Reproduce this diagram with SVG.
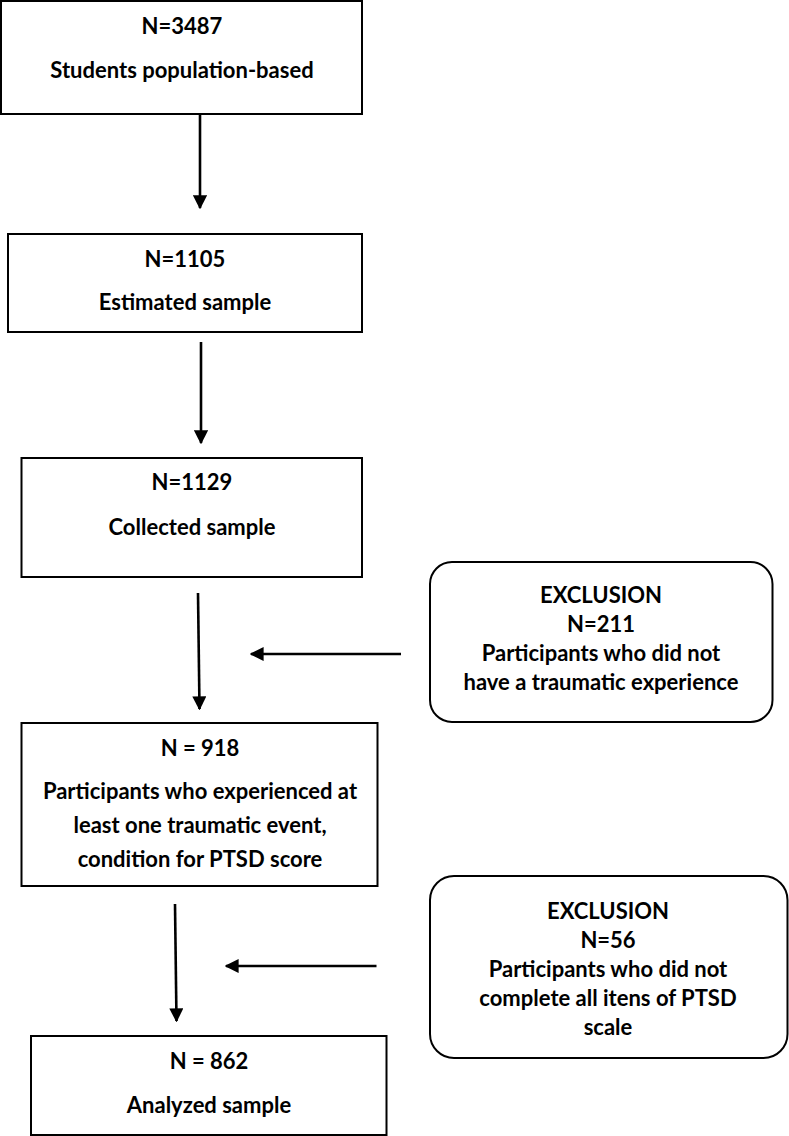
<svg xmlns="http://www.w3.org/2000/svg" width="789" height="1136" viewBox="0 0 789 1136">
<style>
.box{fill:#fff;stroke:#000;stroke-width:2}
.t{font-family:Lato,"Open Sans","Liberation Sans",sans-serif;font-weight:700;font-size:22px;fill:#000;text-anchor:middle}
.c{stroke:#000;stroke-width:2.6;fill:none;marker-end:url(#ah)}
</style>
<defs>
<marker id="ah" viewBox="0 0 10 10" refX="9" refY="5" markerWidth="5.4" markerHeight="5.4" markerUnits="strokeWidth" orient="auto">
<path d="M0,0 L10,5 L0,10 Z" fill="#000"/>
</marker>
</defs>
<g id="connectors">
<line class="c" x1="200" y1="115" x2="200" y2="208"/>
<line class="c" x1="201" y1="342" x2="201" y2="443"/>
<line class="c" x1="198" y1="593" x2="199.5" y2="709"/>
<line class="c" x1="401" y1="654" x2="251" y2="654"/>
<line class="c" x1="175" y1="904" x2="176.5" y2="1021"/>
<line class="c" x1="376.5" y1="966" x2="226" y2="966"/>
</g>
<g id="n1">
<rect class="box" x="1" y="1" width="361" height="113"/>
<text class="t" x="182" y="34">N=3487</text>
<text class="t" x="182" y="78">Students population-based</text>
</g>
<g id="n2">
<rect class="box" x="8" y="234" width="354" height="98"/>
<text class="t" x="185" y="267">N=1105</text>
<text class="t" x="185" y="310">Estimated sample</text>
</g>
<g id="n3">
<rect class="box" x="21.5" y="458" width="340.5" height="119"/>
<text class="t" x="192" y="490">N=1129</text>
<text class="t" x="192" y="535">Collected sample</text>
</g>
<g id="n4">
<rect class="box" x="21.5" y="723" width="356" height="163"/>
<text class="t" x="200" y="756">N = 918</text>
<text class="t" x="200" y="799">Participants who experienced at</text>
<text class="t" x="200" y="833">least one traumatic event,</text>
<text class="t" x="200" y="867">condition for PTSD score</text>
</g>
<g id="n5">
<rect class="box" x="31" y="1036" width="355.5" height="99"/>
<text class="t" x="209" y="1069">N = 862</text>
<text class="t" x="209" y="1113">Analyzed sample</text>
</g>
<g id="ex1">
<rect class="box" x="430" y="562" width="342.5" height="160" rx="22" ry="22"/>
<text class="t" x="601" y="603">EXCLUSION</text>
<text class="t" x="601" y="632">N=211</text>
<text class="t" x="601" y="661">Participants who did not</text>
<text class="t" x="601" y="690">have a traumatic experience</text>
</g>
<g id="ex2">
<rect class="box" x="430" y="876" width="357.5" height="182" rx="24" ry="24"/>
<text class="t" x="608" y="919">EXCLUSION</text>
<text class="t" x="608" y="948">N=56</text>
<text class="t" x="608" y="977">Participants who did not</text>
<text class="t" x="608" y="1006">complete all itens of PTSD</text>
<text class="t" x="608" y="1035">scale</text>
</g>
</svg>
